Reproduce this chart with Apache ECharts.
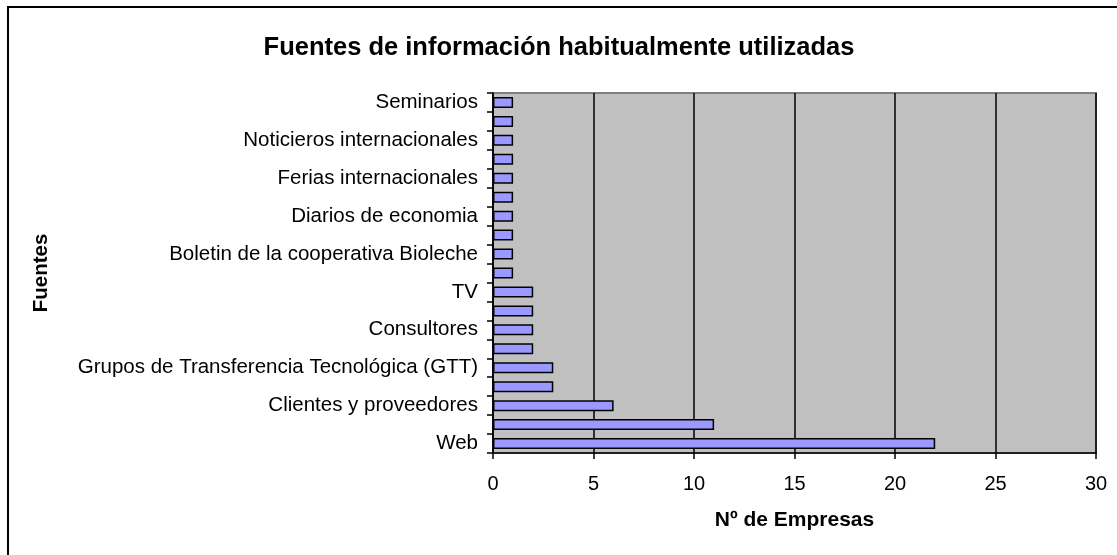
<!DOCTYPE html>
<html>
<head>
<meta charset="utf-8">
<script src="https://cdn.jsdelivr.net/npm/echarts@6/dist/echarts.min.js"></script>
<style>
  html, body { margin: 0; padding: 0; background: #fff; }
  #chart { width: 1117px; height: 555px; }
</style>
</head>
<body>
<div id="chart"></div>
<script>
// categories from bottom to top; only every other one is labelled in the picture
const fuentes = [
    'Web',
    'Revistas especializadas',
    'Clientes y proveedores',
    'Asociaciones del sector',
    'Grupos de Transferencia Tecnológica (GTT)',
    'Ferias nacionales',
    'Consultores',
    'Universidades',
    'TV',
    'Radio',
    'Boletin de la cooperativa Bioleche',
    'Otros boletines',
    'Diarios de economia',
    'Diarios generales',
    'Ferias internacionales',
    'Cursos',
    'Noticieros internacionales',
    'Congresos',
    'Seminarios'
];
const empresas = [22, 11, 6, 3, 3, 2, 2, 2, 2, 1, 1, 1, 1, 1, 1, 1, 1, 1, 1];
const xTicks = [0, 5, 10, 15, 20, 25, 30];

const chart = echarts.init(document.getElementById('chart'));
const font = '"Liberation Sans", Arial, sans-serif';

chart.setOption({
    animation: false,
    backgroundColor: '#ffffff',
    title: {
        text: 'Fuentes de información habitualmente utilizadas',
        left: 554,
        top: 30,
        textAlign: 'center',
        textStyle: { fontFamily: font, fontSize: 25.5, fontWeight: 'bold', color: '#000' }
    },
    graphic: [{
        type: 'rect',
        shape: { x: 8, y: 7, width: 1200, height: 700 },
        style: { fill: 'none', stroke: '#000', lineWidth: 2 },
        silent: true
    }],
    grid: {
        left: 493,
        right: 21,
        top: 93,
        height: 360,
        show: true,
        backgroundColor: '#c0c0c0',
        borderColor: '#808080',
        borderWidth: 2
    },
    xAxis: {
        type: 'value',
        min: xTicks[0],
        max: xTicks[xTicks.length - 1],
        interval: 5,
        name: 'Nº de Empresas',
        nameLocation: 'middle',
        nameGap: 57,
        nameTextStyle: { fontFamily: font, fontSize: 21, fontWeight: 'bold', color: '#000' },
        axisLine: { show: true, lineStyle: { color: '#000', width: 1.5 } },
        axisTick: { show: true, length: 6, lineStyle: { color: '#000', width: 1.5 } },
        axisLabel: { fontFamily: font, fontSize: 20, color: '#000', margin: 21 },
        splitLine: { show: true, lineStyle: { color: '#000', width: 1.5 } }
    },
    yAxis: {
        type: 'category',
        data: fuentes,
        name: 'Fuentes',
        nameLocation: 'middle',
        nameGap: 441,
        nameRotate: 90,
        nameTextStyle: { fontFamily: font, fontSize: 20.5, fontWeight: 'bold', color: '#000' },
        axisLine: { show: true, lineStyle: { color: '#000', width: 1.5 } },
        axisTick: { show: true, length: 6, interval: 0, lineStyle: { color: '#000', width: 1.5 } },
        axisLabel: { fontFamily: font, fontSize: 20.5, color: '#000', margin: 15, interval: 1 },
        splitLine: { show: false }
    },
    series: [{
        type: 'bar',
        data: empresas,
        barCategoryGap: '42%',
        itemStyle: { color: '#9999ff', borderColor: '#000', borderWidth: 1.5 }
    }]
});
</script>
</body>
</html>
